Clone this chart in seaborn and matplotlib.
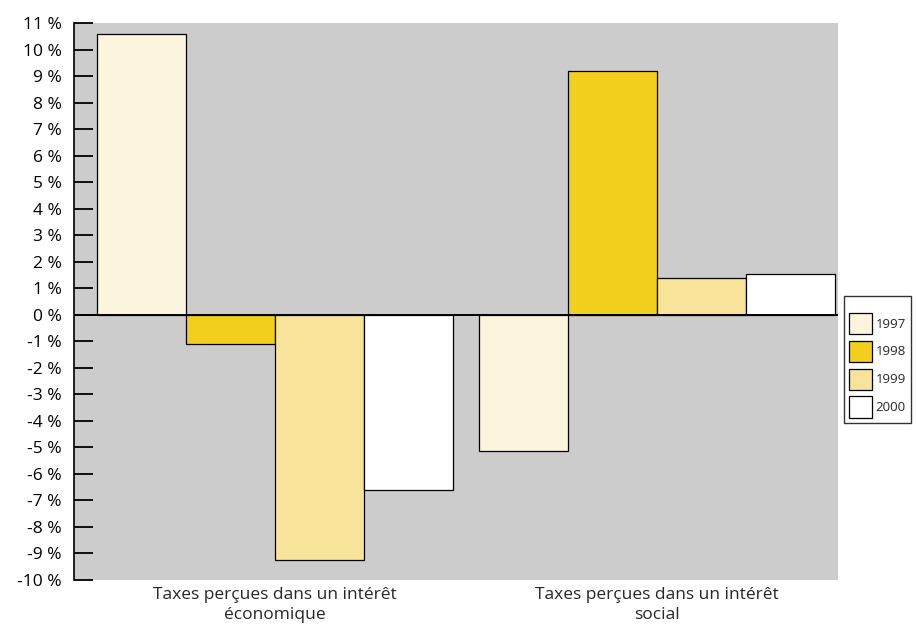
import matplotlib
matplotlib.use("Agg")
import matplotlib.pyplot as plt
import seaborn as sns
import pandas as pd
from matplotlib.ticker import FuncFormatter

categories = ["Taxes perçues dans un intérêt\néconomique",
              "Taxes perçues dans un intérêt\nsocial"]
years = ["1997", "1998", "1999", "2000"]
values_1997 = [10.6, -5.15]
values_1998 = [-1.1, 9.2]
values_1999 = [-9.25, 1.4]
values_2000 = [-6.6, 1.55]
colors = ["#FCF5DD", "#F2CF1D", "#F7E39A", "#FFFFFF"]

series = [values_1997, values_1998, values_1999, values_2000]
rows = []
for year, vals in zip(years, series):
    for cat, v in zip(categories, vals):
        rows.append({"cat": cat, "year": year, "value": v})
df = pd.DataFrame(rows)

sns.set_style("white")
plt.rcParams["font.family"] = ["Open Sans", "DejaVu Sans"]

fig = plt.figure(figsize=(9.16, 6.27), dpi=100)
ax = fig.add_axes([74 / 916, 47 / 627, 764 / 916, 557 / 627])
ax.set_facecolor("#CCCCCC")

sns.barplot(data=df, x="cat", y="value", hue="year", hue_order=years,
            palette=colors, width=0.93, saturation=1, edgecolor="black",
            linewidth=0.9, ax=ax, legend=True, errorbar=None)

ax.axhline(0, color="black", linewidth=1.4, zorder=5)
ax.set_xlim(-0.526, 1.474)
ax.set_ylim(-10, 11)
ax.set_yticks(range(-10, 12))
ax.yaxis.set_major_formatter(FuncFormatter(lambda v, p: f"{int(v)} %"))
ax.tick_params(axis="y", direction="in", length=14, width=1.3, labelsize=12.5,
               pad=9, left=True, colors="black")
ax.tick_params(axis="x", length=0, labelsize=12.5, pad=5)
for lbl in ax.get_xticklabels():
    lbl.set_linespacing(1.3)
ax.set_xlabel("")
ax.set_ylabel("")
for s in ["top", "right", "bottom"]:
    ax.spines[s].set_visible(False)
ax.spines["left"].set_color("black")
ax.spines["left"].set_linewidth(1.2)

# a blank legend title leaves the wider gap above the first swatch
handles, labels = ax.get_legend_handles_labels()
ax.legend(handles, labels, title=" ", title_fontsize=4, loc="upper left",
          bbox_to_anchor=(844 / 916, 1 - 296 / 627),
          bbox_transform=fig.transFigure, frameon=True, fancybox=False,
          edgecolor="black", facecolor="white", fontsize=9.5,
          handlelength=1.7, handleheight=2.1, handletextpad=0.3,
          labelspacing=0.5, borderpad=0.4, borderaxespad=0)
leg = ax.get_legend()
leg.get_frame().set_linewidth(1.0)

fig.savefig("out.png", dpi=100, facecolor="white")
